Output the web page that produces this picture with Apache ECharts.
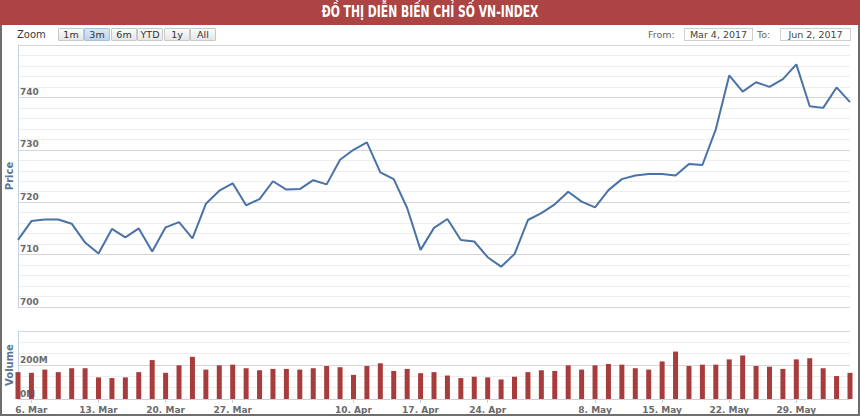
<!DOCTYPE html>
<html>
<head>
<meta charset="utf-8">
<script src="https://cdn.jsdelivr.net/npm/echarts@6/dist/echarts.min.js"></script>
<style>
  html, body { margin:0; padding:0; background:#fff; }
  #wrap { position:relative; width:860px; height:417px; overflow:hidden; background:#fff; }
  #banner { position:absolute; left:0; top:0; width:860px; height:25px; background:#ab4442; }
  #btext { position:absolute; left:0; top:0; width:860px; height:25px; color:#fff;
    font-family:'DejaVu Sans Condensed','DejaVu Sans',sans-serif; font-weight:bold;
    font-size:15px; line-height:25px; text-align:center; transform:scaleX(0.8); transform-origin:430px 50%; }
  #frame { position:absolute; left:0; top:25px; width:856px; height:389px; border:2px solid #6e6e6e; border-top:none; }
  #chart { position:absolute; left:0; top:0; width:860px; height:417px; }
  .t { position:absolute; font-family:'DejaVu Sans',sans-serif; white-space:nowrap; }
  .btn { position:absolute; top:28px; height:11px; width:24px; border:1px solid #c8c8c8; border-radius:1px;
    background:linear-gradient(#fbfbfb,#e6e6e6); font-family:'DejaVu Sans',sans-serif; font-size:9.5px;
    color:#333; text-align:center; line-height:11px; }
  .btn.sel { background:linear-gradient(#dbe8f6,#bcd3ec); border-color:#a8bfd8; }
  .box { position:absolute; top:28px; height:11px; border:1px solid #cfcfcf; font-family:'DejaVu Sans',sans-serif;
    font-size:9.5px; color:#444; line-height:11px; text-align:center; background:#fff; }
</style>
</head>
<body>
<div id="wrap">
  <div id="chart"></div>
  <div id="banner"><div id="btext">ĐỒ THỊ DIỄN BIẾN CHỈ SỐ VN-INDEX</div></div>
  <div id="frame"></div>
  <div class="t" style="left:17px;top:28px;font-size:10px;color:#3a3a3a;line-height:13px;">Zoom</div>
  <div class="btn" style="left:58px;">1m</div>
  <div class="btn sel" style="left:84px;">3m</div>
  <div class="btn" style="left:111px;">6m</div>
  <div class="btn" style="left:137px;">YTD</div>
  <div class="btn" style="left:164px;">1y</div>
  <div class="btn" style="left:190px;">All</div>
  <div class="t" style="left:648px;top:28px;font-size:9.5px;color:#666;line-height:13px;">From:</div>
  <div class="box" style="left:684px;width:67px;">Mar 4, 2017</div>
  <div class="t" style="left:757px;top:28px;font-size:9.5px;color:#666;line-height:13px;">To:</div>
  <div class="box" style="left:780px;width:69px;">Jun 2, 2017</div>
</div>
<script>
// ---- data ----
var dates = [
  '2017-03-03','2017-03-06','2017-03-07','2017-03-08','2017-03-09','2017-03-10',
  '2017-03-13','2017-03-14','2017-03-15','2017-03-16','2017-03-17',
  '2017-03-20','2017-03-21','2017-03-22','2017-03-23','2017-03-24',
  '2017-03-27','2017-03-28','2017-03-29','2017-03-30','2017-03-31',
  '2017-04-03','2017-04-04','2017-04-05','2017-04-07',
  '2017-04-10','2017-04-11','2017-04-12','2017-04-13','2017-04-14',
  '2017-04-17','2017-04-18','2017-04-19','2017-04-20','2017-04-21',
  '2017-04-24','2017-04-25','2017-04-26','2017-04-27','2017-04-28',
  '2017-05-03','2017-05-04','2017-05-05',
  '2017-05-08','2017-05-09','2017-05-10','2017-05-11','2017-05-12',
  '2017-05-15','2017-05-16','2017-05-17','2017-05-18','2017-05-19',
  '2017-05-22','2017-05-23','2017-05-24','2017-05-25','2017-05-26',
  '2017-05-29','2017-05-30','2017-05-31','2017-06-01','2017-06-02'
];
var prices = [
  712.8,716.4,716.7,716.7,715.9,712.3,
  710.2,714.9,713.3,715.0,710.6,
  715.2,716.2,713.1,719.7,722.2,
  723.6,719.4,720.6,724.0,722.4,
  722.5,724.2,723.4,728.1,
  730.0,731.4,725.7,724.4,718.9,
  710.9,715.1,716.8,712.8,712.5,
  709.5,707.7,710.1,716.6,717.9,
  719.6,722.0,720.1,
  719.0,722.3,724.4,725.1,725.4,
  725.4,725.1,727.3,727.1,733.9,
  744.2,741.1,742.9,742.0,743.5,
  746.3,738.3,738.0,741.9,739.1
];
var volumes = [ // millions
  158,154,173,158,181,181,
  127,123,127,158,229,
  154,198,248,173,198,
  202,181,169,177,177,
  173,181,194,187,
  142,194,210,165,177,
  152,158,138,123,131,
  127,115,131,158,169,
  165,198,173,
  198,206,202,181,173,
  221,279,194,202,202,
  233,256,194,190,177,
  233,240,181,135,154
];
var tickDates  = ['2017-03-06','2017-03-13','2017-03-20','2017-03-27','2017-04-10','2017-04-17','2017-04-24','2017-05-08','2017-05-15','2017-05-22','2017-05-29'];
var tickLabels = ['6. Mar','13. Mar','20. Mar','27. Mar','10. Apr','17. Apr','24. Apr','8. May','15. May','22. May','29. May'];
var priceTicks = [700,710,720,730,740];
var volumeTicks = [0,200];

// ---- chart ----
var chart = echarts.init(document.getElementById('chart'), null, {renderer:'svg'});
function isTick(idx, val){ return tickDates.indexOf(val) >= 0; }
var axisLineColor = '#c3d1e0';
var labelStyle = {color:'#6b6b6b', fontSize:9, fontWeight:'bold', fontFamily:'DejaVu Sans'};
var option = {
  animation:false,
  grid:[
    {left:18, right:10, top:45, height:262, outerBoundsMode:'none', containLabel:false},
    {left:18, right:10, top:331, height:68, outerBoundsMode:'none', containLabel:false}
  ],
  xAxis:[
    {type:'category', gridIndex:0, data:dates, boundaryGap:false,
     axisLine:{show:false}, axisTick:{show:false}, axisLabel:{show:false}, splitLine:{show:false}},
    {type:'category', gridIndex:1, data:dates, boundaryGap:false,
     axisLine:{show:true, lineStyle:{color:axisLineColor, width:1}},
     axisTick:{show:true, interval:isTick, length:4, lineStyle:{color:axisLineColor}},
     axisLabel:Object.assign({interval:isTick, margin:6,
       formatter:function(v){ var i=tickDates.indexOf(v); return i>=0?tickLabels[i]:''; }}, labelStyle),
     splitLine:{show:false}}
  ],
  yAxis:[
    {type:'value', gridIndex:0, min:700, max:750, interval:10, position:'left',
     name:'Price', nameLocation:'middle', nameGap:4, nameMoveOverlap:false,
     nameTextStyle:{color:'#5a7396', fontSize:10, fontWeight:'bold', fontFamily:'DejaVu Sans'},
     axisLine:{show:true, lineStyle:{color:axisLineColor}},
     axisTick:{show:false},
     axisLabel:Object.assign({inside:true, verticalAlign:'bottom', margin:2, padding:[0,0,1,0],
       formatter:function(v){ return priceTicks.indexOf(v)>=0 ? String(v) : ''; }}, labelStyle),
     splitLine:{show:true, lineStyle:{color:'#d6d6d6', width:1}},
     minorTick:{show:false, splitNumber:5},
     minorSplitLine:{show:true, lineStyle:{color:'#eeeeee', width:1}}},
    {type:'value', gridIndex:1, min:0, max:400, interval:200, position:'left',
     name:'Volume', nameLocation:'middle', nameGap:4, nameMoveOverlap:false,
     nameTextStyle:{color:'#5a7396', fontSize:10, fontWeight:'bold', fontFamily:'DejaVu Sans'},
     axisLine:{show:true, lineStyle:{color:axisLineColor}},
     axisTick:{show:false},
     axisLabel:Object.assign({inside:true, verticalAlign:'bottom', margin:2, padding:[0,0,1,0],
       formatter:function(v){ return volumeTicks.indexOf(v)>=0 ? v+'M' : ''; }}, labelStyle),
     splitLine:{show:true, lineStyle:{color:'#d6d6d6', width:1}},
     minorTick:{show:false, splitNumber:3},
     minorSplitLine:{show:true, lineStyle:{color:'#eeeeee', width:1}}}
  ],
  series:[
    {type:'line', xAxisIndex:0, yAxisIndex:0, data:prices, showSymbol:false, symbol:'none',
     lineStyle:{color:'#4a72a6', width:2}, itemStyle:{color:'#4a72a6'}},
    {type:'bar', xAxisIndex:1, yAxisIndex:1, data:volumes, barWidth:5,
     itemStyle:{color:'#a83b3b'}}
  ]
};
chart.setOption(option);
</script>
</body>
</html>
